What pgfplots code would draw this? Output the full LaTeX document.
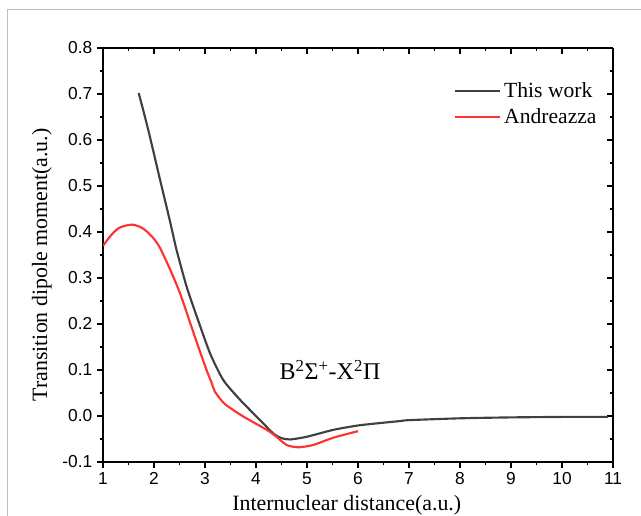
\documentclass[border=0pt]{standalone}
\usepackage{fontspec}
\setmainfont{Liberation Serif}
\newfontfamily\ticksans{Liberation Sans}
\usepackage{pgfplots}
\pgfplotsset{compat=1.18}
\definecolor{tw}{RGB}{64,64,64}
\definecolor{an}{RGB}{255,50,50}
\pgfplotsset{
  common/.style={
    scale only axis, width=382.5pt, height=310.5pt,
    at={(77.25pt,39.75pt)}, anchor=south west,
    xmin=1, xmax=11, ymin=-0.1, ymax=0.8,
    xtick={1,2,3,4,5,6,7,8,9,10,11},
    ytick={-0.1,0,0.1,0.2,0.3,0.4,0.5,0.6,0.7,0.8},
    minor x tick num=1, minor y tick num=1,
    major tick length=4.5pt, minor tick length=2.5pt,
    every tick/.style={black, line width=0.8pt},
    axis line style={-, line width=1pt, black},
  }
}
\begin{document}
\begin{tikzpicture}
\useasboundingbox (0,0) rectangle (480.75pt,386.25pt);
\draw[black!25, line width=0.75pt] (5.625pt,-10pt) -- (5.625pt,379.125pt) -- (500pt,379.125pt);
\begin{axis}[common,
  axis x line*=top, axis y line*=right, tick align=inside,
  xticklabels={}, yticklabels={}]
\end{axis}
\begin{axis}[common,
  axis x line*=bottom, axis y line*=left, tick align=outside,
  /pgf/number format/assume math mode=true,
  yticklabel style={/pgf/number format/.cd, fixed, fixed zerofill, precision=1},
  ticklabel style={font=\ticksans\fontsize{13}{15}\selectfont},
  xlabel={Internuclear distance(a.u.)},
  ylabel={Transition dipole moment(a.u.)},
  xlabel style={at={(axis description cs:0.478,-0.104)}, anchor=center, font=\fontsize{16.4}{19}\selectfont},
  ylabel style={at={(axis description cs:-0.120,0.476)}, anchor=center, font=\fontsize{16.4}{19}\selectfont},
  legend style={draw=none, fill=none, at={(axis description cs:0.68,0.93)}, anchor=north west,
    font=\fontsize{16.2}{19}\selectfont, row sep=3pt},
  legend cell align=left,
  legend image code/.code={\draw[#1] (0pt,0pt) -- (34pt,0pt);},
]
\addplot[tw, line width=1.6pt, smooth, tension=0.4] coordinates {
(1.70,0.702) (1.80,0.660) (1.92,0.607) (2.12,0.513) (2.31,0.425) (2.44,0.362)
(2.64,0.281) (2.84,0.216) (3.10,0.136) (3.36,0.078) (3.69,0.035) (4.08,-0.009)
(4.34,-0.038) (4.50,-0.048) (4.67,-0.051) (5.00,-0.045) (5.52,-0.030) (6.04,-0.020)
(6.82,-0.011) (7.00,-0.009) (8.00,-0.005) (9.00,-0.003) (10.0,-0.002) (10.9,-0.002)
};
\addlegendentry{This work}
\addplot[an, line width=1.6pt, smooth, tension=0.4] coordinates {
(1.00,0.370) (1.15,0.392) (1.30,0.408) (1.45,0.414) (1.59,0.416) (1.75,0.410)
(1.86,0.401) (2.00,0.385) (2.12,0.365) (2.31,0.320) (2.51,0.267) (2.71,0.202)
(2.87,0.150) (3.03,0.100) (3.12,0.075) (3.20,0.052) (3.39,0.026) (3.75,-0.001)
(4.21,-0.030) (4.40,-0.045) (4.60,-0.063) (4.83,-0.068) (5.12,-0.063) (5.52,-0.047)
(6.00,-0.033)
};
\addlegendentry{Andreazza}
\node[font=\fontsize{18}{21}\selectfont] at (axis cs:5.45,0.100)
  {B\textsuperscript{2}Σ\textsuperscript{+}-X\textsuperscript{2}Π};
\end{axis}
\end{tikzpicture}
\end{document}
